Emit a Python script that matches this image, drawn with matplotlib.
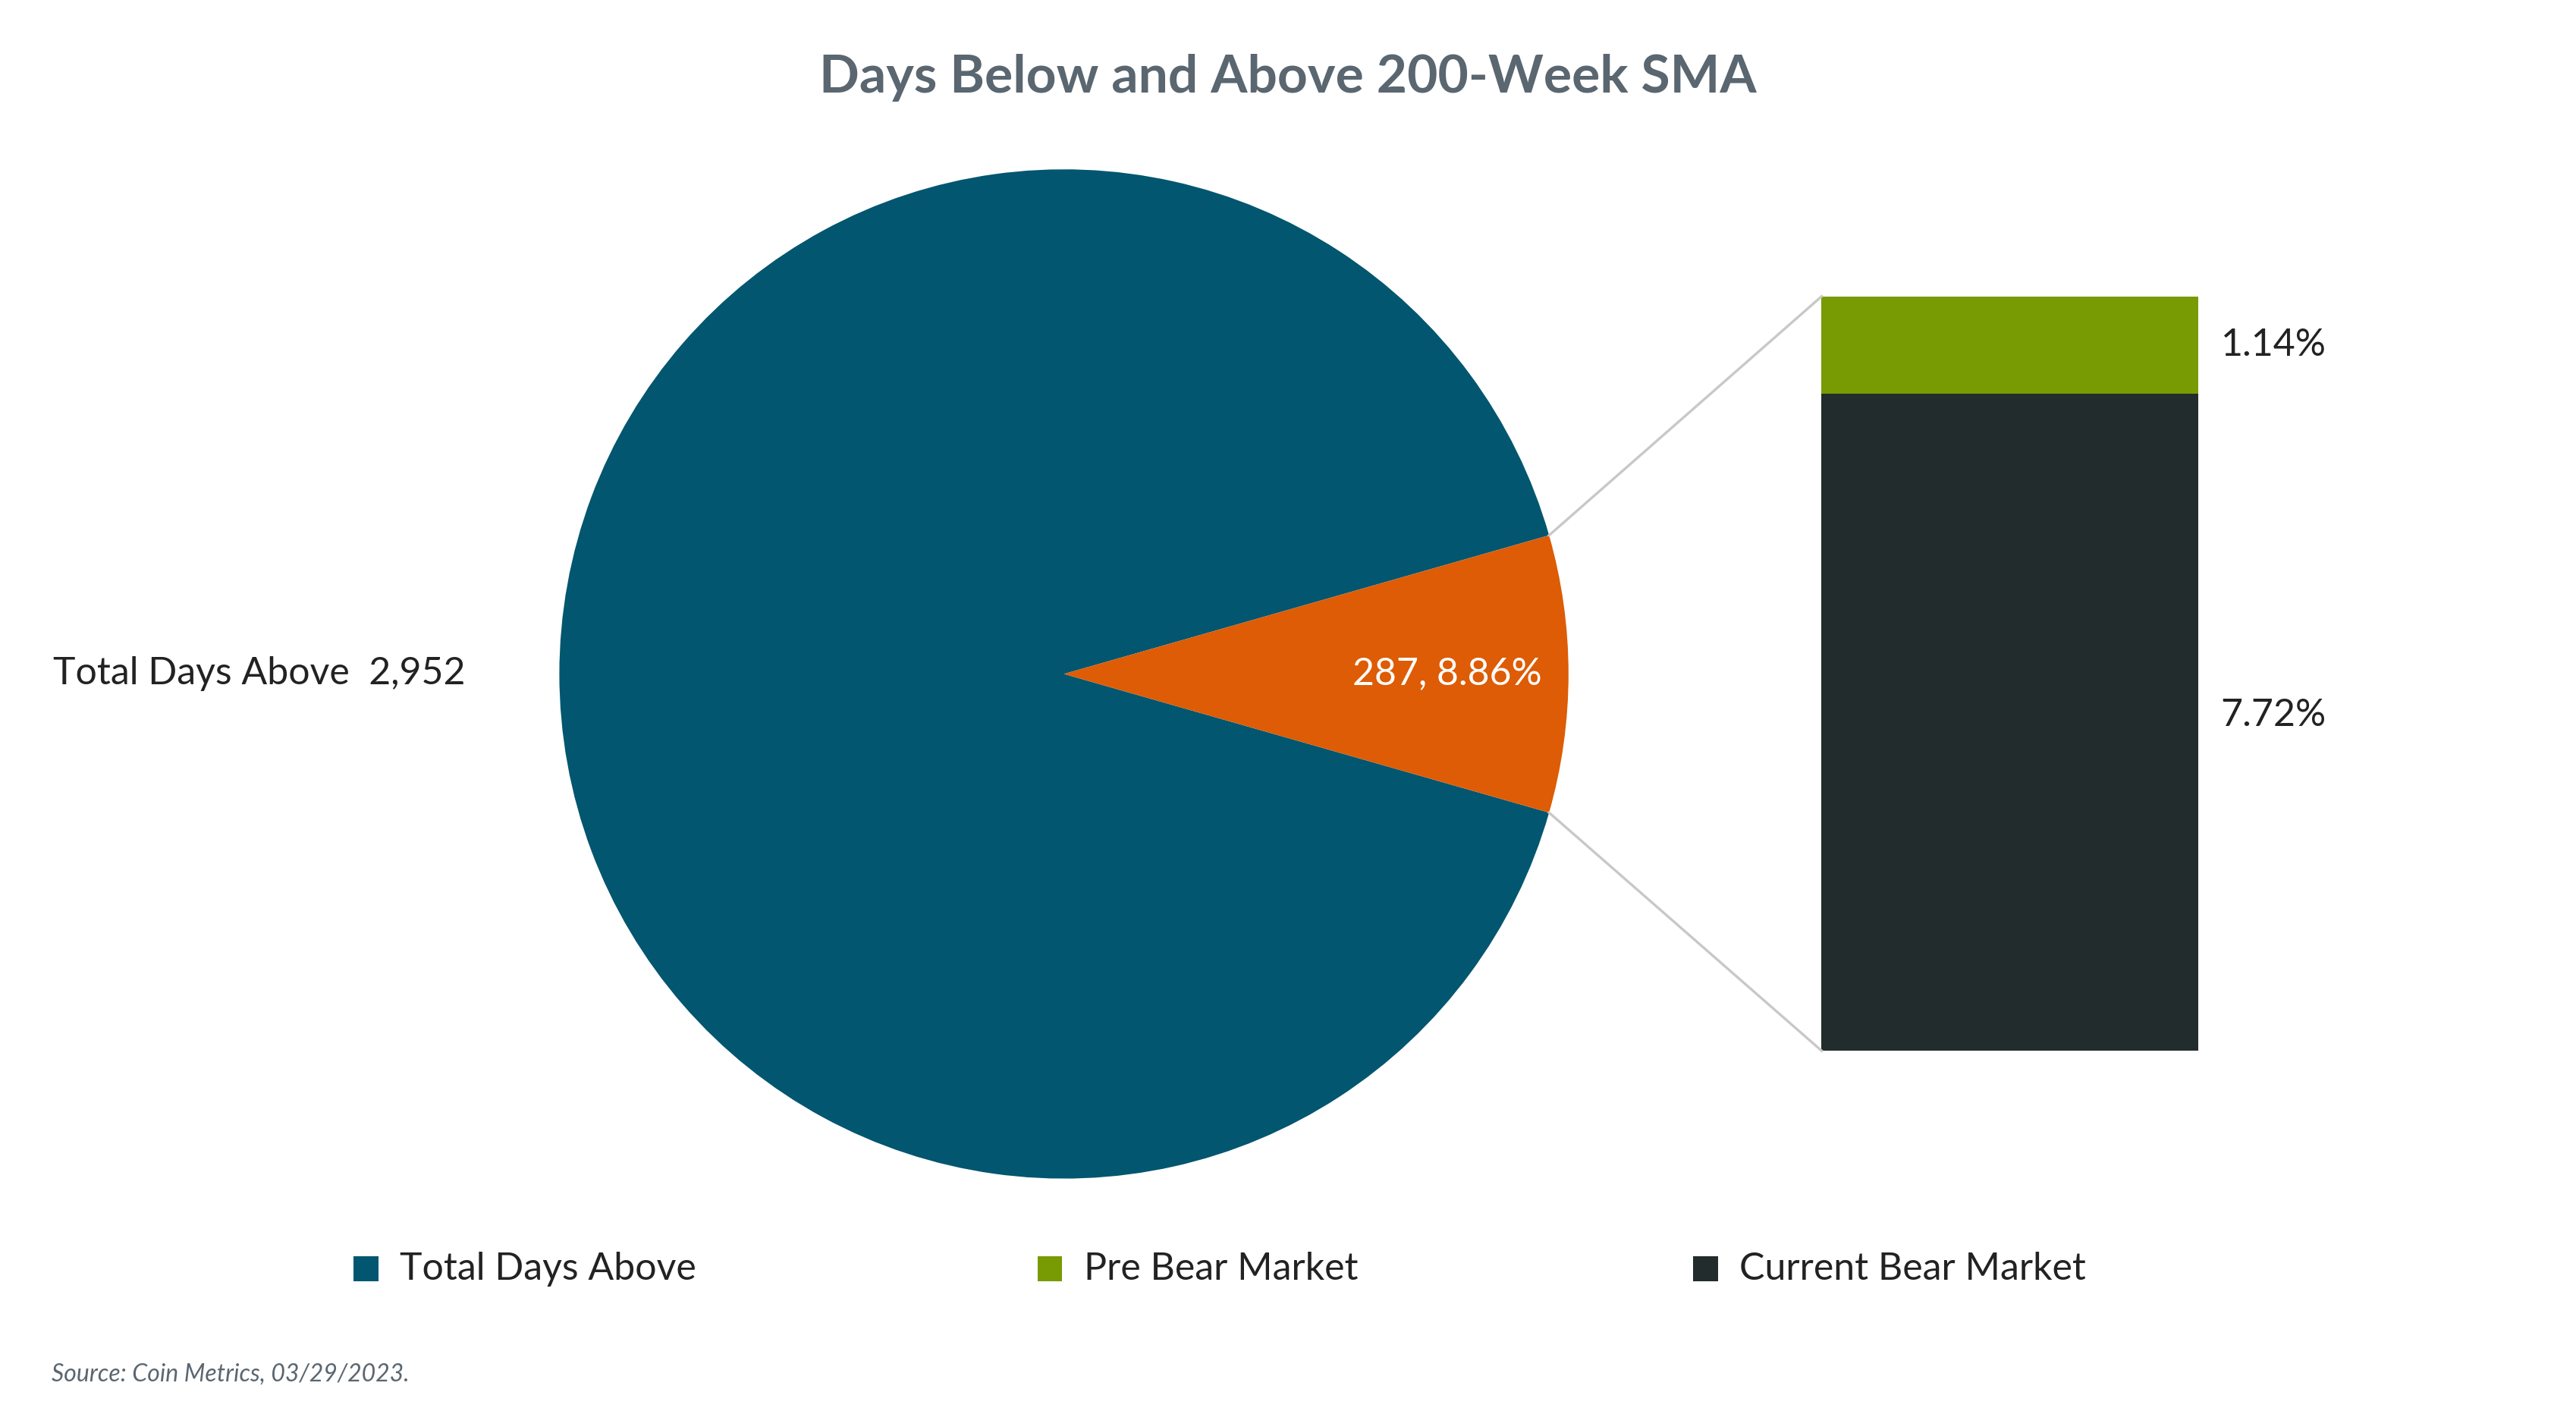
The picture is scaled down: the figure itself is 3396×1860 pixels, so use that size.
import matplotlib
matplotlib.use('Agg')
import matplotlib.pyplot as plt
from matplotlib.patches import Rectangle

# Data
pie_labels = ['Total Days Above', 'Total Days Below']
pie_days = [2952, 287]
bar_labels = ['Current Bear Market', 'Pre Bear Market']
bar_pcts = [7.72, 1.14]

BLUE = '#02566F'
ORANGE = '#DD5C05'
GREEN = '#789A02'
DARK = '#222C2C'
GREY = '#5A6670'
FONT = 'Lato'

fig = plt.figure(figsize=(16.98, 9.3), dpi=200)
ax = fig.add_axes([0, 0, 1, 1])
ax.set_xlim(0, 1552)
ax.set_ylim(0, 850)
ax.axis('off')

# Pie
cx, cy, r = 641, 444, 304
below_frac = pie_days[1] / float(sum(pie_days))
start = below_frac * 180
ax.pie(pie_days, colors=[BLUE, ORANGE], startangle=start, center=(cx, cy),
       radius=r, frame=True, wedgeprops=dict(linewidth=0))
ax.set_xlim(0, 1552)
ax.set_ylim(0, 850)
ax.set_aspect('equal')
ax.axis('off')

# Bar of pie
bx, bw, bbottom, bh = 1211, 227, 217, 396
scale = bh / bar_pcts[0]
bottom = bbottom
for val, col in zip(bar_pcts, [DARK, GREEN]):
    ax.bar(bx, val * scale, width=bw, bottom=bottom, color=col, linewidth=0)
    bottom += val * scale

# connectors
import numpy as np
a = np.deg2rad(start)
ax.plot([cx + r * np.cos(a), bx - bw / 2], [cy + r * np.sin(a), bottom],
        color='#C8C8C8', lw=1.2)
ax.plot([cx + r * np.cos(a), bx - bw / 2], [cy - r * np.sin(a), bbottom],
        color='#C8C8C8', lw=1.2)

# Labels
ax.set_title('')
fig.text(0.5, 0.945, 'Days Below and Above 200-Week SMA', ha='center',
         va='center', fontsize=25, fontweight='bold', color=GREY, family=FONT)
ax.text(32, cy, 'Total Days Above  %s' % format(pie_days[0], ','),
        ha='left', va='center', fontsize=18, color='#222222', family=FONT)
ax.text(872, cy, '%d, %.2f%%' % (pie_days[1], below_frac * 100),
        ha='center', va='center', fontsize=18, color='white', family=FONT)
ax.text(1338, bbottom + bh + bar_pcts[1] * scale / 2, '%.2f%%' % bar_pcts[1],
        ha='left', va='center', fontsize=18, color='#222222', family=FONT)
ax.text(1338, bbottom + bh * 0.51, '%.2f%%' % bar_pcts[0],
        ha='left', va='center', fontsize=18, color='#222222', family=FONT)

# Legend
for x, lab, col in [(213, 'Total Days Above', BLUE),
                    (625, 'Pre Bear Market', GREEN),
                    (1020, 'Current Bear Market', DARK)]:
    ax.add_patch(Rectangle((x, 78), 15, 15, color=col, lw=0))
    ax.text(x + 28, 85.5, lab, ha='left', va='center', fontsize=18,
            color='#222222', family=FONT)

ax.text(31, 22, 'Source: Coin Metrics, 03/29/2023.', ha='left', va='center',
        fontsize=11.5, style='italic', color=GREY, family=FONT)

fig.savefig('out.png', dpi=200)
